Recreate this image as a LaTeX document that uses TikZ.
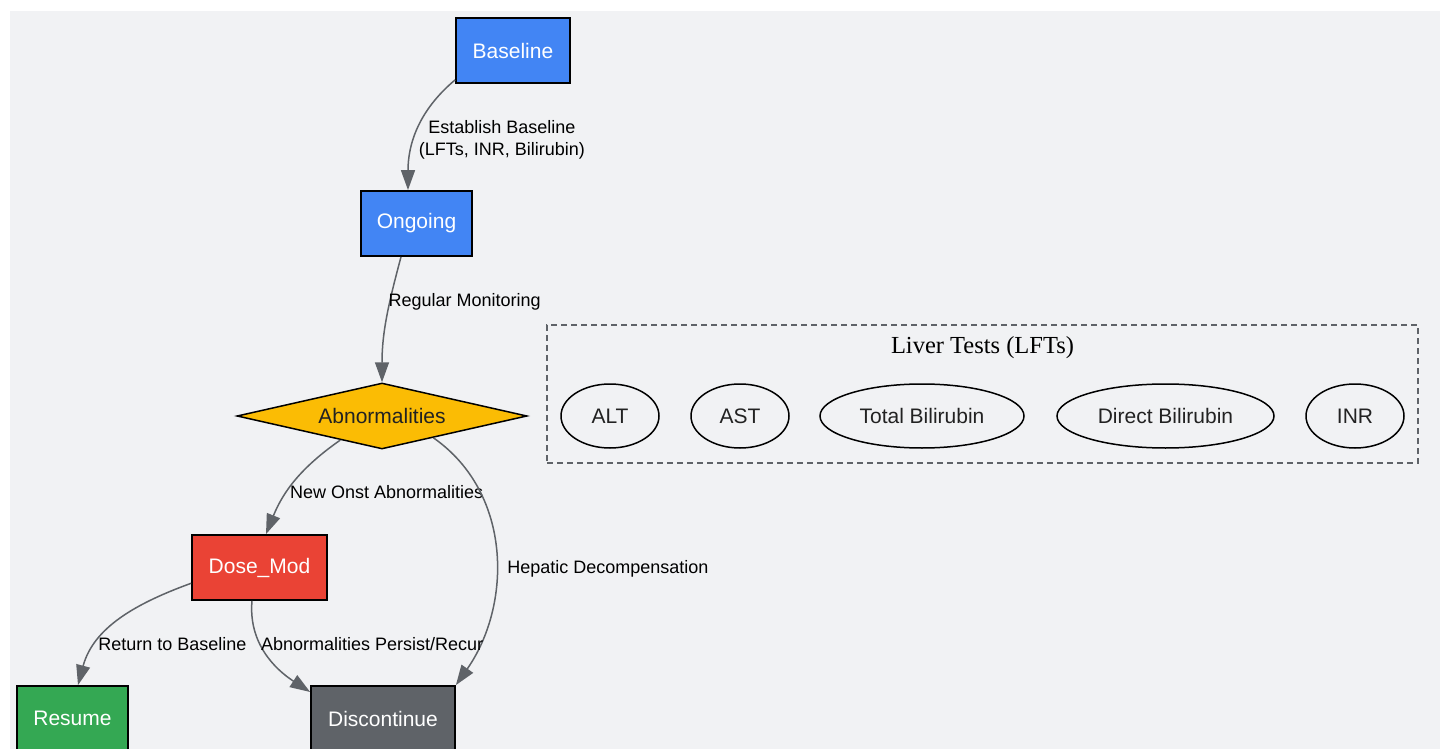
\documentclass[tikz,border=0pt]{standalone}
\usepackage{fontspec}
\setmainfont{Liberation Sans}
\newfontfamily\titlefont{Liberation Serif}
\usetikzlibrary{arrows.meta,shapes.geometric}

\definecolor{bgcol}{RGB}{241,242,244}
\definecolor{gblue}{RGB}{66,133,244}
\definecolor{gred}{RGB}{234,67,53}
\definecolor{ggreen}{RGB}{52,168,83}
\definecolor{ggray}{RGB}{95,99,104}
\definecolor{gyellow}{RGB}{251,188,4}
\definecolor{edgecol}{RGB}{95,99,104}
\definecolor{txtcol}{RGB}{34,34,34}

\tikzset{
  box/.style={draw=black, line width=1.8pt, inner sep=0pt, minimum height=65pt,
    text=white, font=\fontsize{21}{25}\selectfont},
  test/.style={ellipse, draw=black, line width=1.5pt, inner sep=0pt, minimum height=64pt,
    text=txtcol, font=\fontsize{21}{25}\selectfont},
  flow/.style={draw=edgecol, line width=1.5pt, -{Triangle[length=20pt,width=14pt]}},
  lbl/.style={right, inner sep=3pt, text=black, align=center, font=\fontsize{18}{22}\selectfont}
}

\begin{document}
\begin{tikzpicture}[x=1pt,y=1pt]
        \useasboundingbox (0,0) rectangle (1444,-749);
        \fill[bgcol] (10,-11) rectangle (1440,-749);

        \node[box, fill=gblue, minimum width=114pt] (Baseline) at (513,-50.5) {Baseline};
        \node[box, fill=gblue, minimum width=111pt] (Ongoing) at (416.5,-223.5) {Ongoing};
        \node[diamond, draw=black, line width=1.5pt, fill=gyellow, aspect=4.4, inner sep=0pt,
          minimum width=290pt, minimum height=66pt, text=txtcol,
          font=\fontsize{21}{25}\selectfont] (Abn) at (382,-416) {Abnormalities};
        \node[box, fill=gred, minimum width=135pt] (DoseMod) at (259.5,-567.5) {Dose\_Mod};
        \node[box, fill=ggreen, minimum width=111pt] (Resume) at (72.5,-718.5) {Resume};
        \node[box, fill=ggray, minimum width=144pt] (Disc) at (383,-718.5) {Discontinue};

        \node[draw=edgecol, line width=1.5pt, dash pattern=on 6pt off 4pt,
          minimum width=871pt, minimum height=138pt] (LFTs) at (982.5,-394) {};
        \node[font=\titlefont\fontsize{24.5}{28}\selectfont, text=black] (LFTsTitle) at (982.5,-348) {Liver Tests (LFTs)};
        \node[test, minimum width=98pt] (ALT) at (610,-416) {ALT};
        \node[test, minimum width=98pt] (AST) at (740,-416) {AST};
        \node[test, minimum width=204pt] (TBili) at (922,-416) {Total Bilirubin};
        \node[test, minimum width=217pt] (DBili) at (1165.5,-416) {Direct Bilirubin};
        \node[test, minimum width=98pt] (INR) at (1355,-416) {INR};

        \draw[flow] ([yshift=4pt]Baseline.south west) to[out=220,in=90]
          node[lbl, xshift=-3pt, yshift=-11pt]{Establish Baseline\\(LFTs, INR, Bilirubin)} ([xshift=-8.5pt]Ongoing.north);
        \draw[flow] ([xshift=-15.5pt]Ongoing.south) to[out=255,in=90]
          node[lbl, pos=0.35, xshift=-5pt]{Regular Monitoring} (Abn.north);
        \draw[flow] (Abn.210) to[out=215,in=68]
          node[lbl, xshift=-9pt, yshift=-11pt]{New Onst Abnormalities} ([xshift=6.5pt]DoseMod.north);
        \draw[flow] (Abn.337) to[out=-35,in=55]
          node[lbl, pos=0.56, xshift=8pt]{Hepatic Decompensation} (Disc.north east);
        \draw[flow] (DoseMod.193) to[out=200,in=75]
          node[lbl, pos=0.7, xshift=-4pt, yshift=-2pt]{Return to Baseline} ([xshift=5.5pt]Resume.north);
        \draw[flow] ([xshift=-7.5pt]DoseMod.south) to[out=265,in=147]
          node[lbl, pos=0.45, xshift=-6pt, yshift=5pt]{Abnormalities Persist/Recur} (Disc.160);
      \end{tikzpicture}
\end{document}
